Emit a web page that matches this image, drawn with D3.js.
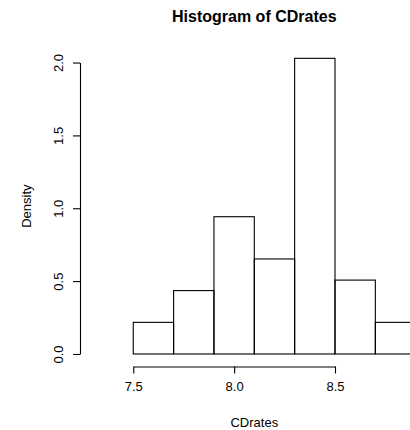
<!DOCTYPE html>
<html>
<head>
<meta charset="utf-8">
<script src="https://cdn.jsdelivr.net/npm/d3@7"></script>
<style>
  html, body { margin: 0; padding: 0; background: #fff; }
  svg { display: block; }
  text { font-family: "Liberation Sans", Arial, Helvetica, sans-serif; fill: #000; }
</style>
</head>
<body>
<svg id="chart" width="410" height="430"></svg>
<script>
// Histogram bins: lower/upper break of each bin and its density
const binStarts = [7.3, 7.5, 7.7, 7.9, 8.1, 8.3, 8.5, 8.7];
const binEnds   = [7.5, 7.7, 7.9, 8.1, 8.3, 8.5, 8.7, 8.9];
const densities = [0, 0.217, 0.435, 0.942, 0.652, 2.029, 0.507, 0.217];

const xTicks = [7.5, 8.0, 8.5];
const xTickLabels = ["7.5", "8.0", "8.5"];
const yTicks = [0, 0.5, 1.0, 1.5, 2.0];
const yTickLabels = ["0.0", "0.5", "1.0", "1.5", "2.0"];

const title = "Histogram of CDrates";
const xLabel = "CDrates";
const yLabel = "Density";

const svg = d3.select("#chart");

// Plot region (user coordinates padded 4% beyond the data range)
const xLo = 7.3, xHi = 8.9, yHi = d3.max(densities);
const xPad = (xHi - xLo) * 0.04, yPad = yHi * 0.04;
const plot = { left: 80, right: 428.6, top: 46.5, bottom: 365.8 };

const x = d3.scaleLinear().domain([xLo - xPad, xHi + xPad]).range([plot.left, plot.right]);
const y = d3.scaleLinear().domain([-yPad, yHi + yPad]).range([plot.bottom, plot.top]);

// Bars
const bins = binStarts.map((s, i) => ({ x0: s, x1: binEnds[i], d: densities[i] }));
svg.append("g")
  .selectAll("rect")
  .data(bins)
  .join("rect")
  .attr("x", d => x(d.x0))
  .attr("y", d => y(d.d))
  .attr("width", d => x(d.x1) - x(d.x0))
  .attr("height", d => y(0) - y(d.d))
  .attr("fill", "none")
  .attr("stroke", "#000")
  .attr("stroke-width", 1.1);

// X axis: line spans first to last tick
const xAxisScale = x.copy().domain([xTicks[0], xTicks[xTicks.length - 1]])
  .range([x(xTicks[0]), x(xTicks[xTicks.length - 1])]);
const gx = svg.append("g")
  .attr("transform", `translate(0,${plot.bottom + 0.7})`)
  .call(d3.axisBottom(xAxisScale)
    .tickValues(xTicks)
    .tickFormat((d, i) => xTickLabels[i])
    .tickSize(7)
    .tickSizeOuter(0)
    .tickPadding(8));
gx.selectAll("path, line").attr("stroke", "#000").attr("stroke-width", 1.1);
gx.selectAll("text").attr("font-size", 13).attr("font-family", "Liberation Sans, Arial, sans-serif");

// Y axis: line spans first to last tick, labels parallel to the axis
const yAxisScale = y.copy().domain([yTicks[0], yTicks[yTicks.length - 1]])
  .range([y(yTicks[0]), y(yTicks[yTicks.length - 1])]);
const gy = svg.append("g")
  .attr("transform", `translate(${plot.left},0)`)
  .call(d3.axisLeft(yAxisScale)
    .tickValues(yTicks)
    .tickFormat((d, i) => yTickLabels[i])
    .tickSize(7)
    .tickSizeOuter(0));
gy.selectAll("path, line").attr("stroke", "#000").attr("stroke-width", 1.1);
gy.selectAll("text")
  .attr("font-size", 13)
  .attr("font-family", "Liberation Sans, Arial, sans-serif")
  .attr("x", null).attr("dy", null)
  .attr("text-anchor", "middle")
  .attr("transform", "translate(-17,0) rotate(-90)");

const midX = (plot.left + plot.right) / 2;
const midY = (plot.top + plot.bottom) / 2;

// Title
svg.append("text")
  .attr("x", midX).attr("y", 21.5)
  .attr("text-anchor", "middle")
  .attr("font-size", 16)
  .attr("font-weight", "bold")
  .text(title);

// Axis titles
svg.append("text")
  .attr("x", midX).attr("y", 426.5)
  .attr("text-anchor", "middle")
  .attr("font-size", 13)
  .text(xLabel);

svg.append("text")
  .attr("transform", `translate(30.5,${midY}) rotate(-90)`)
  .attr("text-anchor", "middle")
  .attr("font-size", 13)
  .text(yLabel);
</script>
</body>
</html>
